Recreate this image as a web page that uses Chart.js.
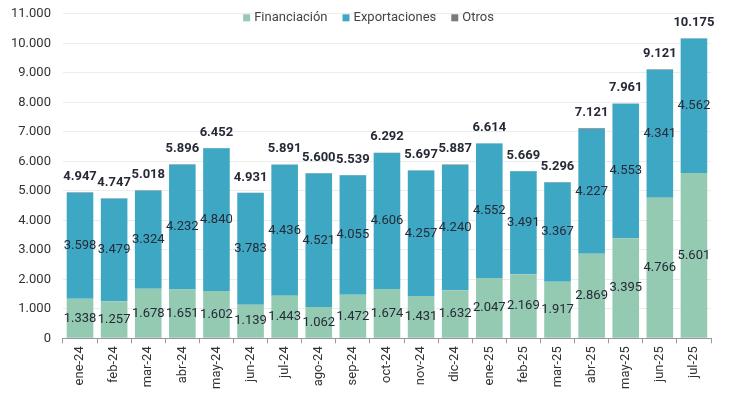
<!DOCTYPE html>
<html>
<head>
<meta charset="utf-8">
<script src="https://cdn.jsdelivr.net/npm/chart.js@4/dist/chart.umd.min.js"></script>
<style>
  html, body { margin: 0; padding: 0; background: #fff; }
  #wrap { width: 737px; height: 398px; }
</style>
</head>
<body>
<div id="wrap"><canvas id="chart"></canvas></div>
<script>
const months = ['ene-24', 'feb-24', 'mar-24', 'abr-24', 'may-24', 'jun-24', 'jul-24', 'ago-24', 'sep-24', 'oct-24', 'nov-24', 'dic-24',
                'ene-25', 'feb-25', 'mar-25', 'abr-25', 'may-25', 'jun-25', 'jul-25'];
const financiacion = [1338, 1257, 1678, 1651, 1602, 1139, 1443, 1062, 1472, 1674, 1431, 1632, 2047, 2169, 1917, 2869, 3395, 4766, 5601];
const exportaciones = [3598, 3479, 3324, 4232, 4840, 3783, 4436, 4521, 4055, 4606, 4257, 4240, 4552, 3491, 3367, 4227, 4553, 4341, 4562];
const otros = [11, 11, 16, 13, 10, 9, 12, 17, 12, 12, 9, 15, 15, 9, 12, 25, 13, 14, 12];
const totals = [4947, 4747, 5018, 5896, 6452, 4931, 5891, 5600, 5539, 6292, 5697, 5887, 6614, 5669, 5296, 7121, 7961, 9121, 10175];

const green = '#94c9b2';
const blue = '#3ea8c4';
const grey = '#7a7a7a';
const textDark = '#262a36';
const fontFamily = 'Roboto, "Noto Sans", sans-serif';

// thousands separator with a dot
function fmt(v) {
    return String(Math.round(v)).replace(/\B(?=(\d{3})+(?!\d))/g, '.');
}

// segment values and totals
const labelsPlugin = {
    id: 'barLabels',
    afterDatasetsDraw(chart) {
        const ctx = chart.ctx;
        ctx.save();
        ctx.textAlign = 'center';
        ctx.textBaseline = 'middle';
        [0, 1].forEach(di => {
            const meta = chart.getDatasetMeta(di);
            ctx.font = '13px ' + fontFamily;
            ctx.fillStyle = textDark;
            meta.data.forEach((bar, i) => {
                const y = (bar.y + bar.base) / 2;
                ctx.fillText(fmt(chart.data.datasets[di].data[i]), bar.x, y);
            });
        });
        const yScale = chart.scales.y;
        const topMeta = chart.getDatasetMeta(2);
        ctx.font = 'bold 13px ' + fontFamily;
        ctx.fillStyle = textDark;
        ctx.textBaseline = 'bottom';
        topMeta.data.forEach((bar, i) => {
            ctx.fillText(fmt(totals[i]), bar.x, yScale.getPixelForValue(totals[i]) - 9);
        });
        ctx.restore();
    }
};

// legend drawn over the top of the plot
const legendPlugin = {
    id: 'overLegend',
    afterDraw(chart) {
        const ctx = chart.ctx;
        const items = chart.data.datasets.map(d => ({ text: d.label, color: d.backgroundColor }));
        ctx.save();
        ctx.font = '13px ' + fontFamily;
        const box = 7, gap = 4, spacing = 15;
        let total = 0;
        items.forEach((it, i) => {
            it.w = ctx.measureText(it.text).width;
            total += box + gap + it.w + (i < items.length - 1 ? spacing : 0);
        });
        let x = chart.width / 2 - total / 2;
        const y = chart.chartArea.top + 4;
        ctx.textBaseline = 'middle';
        ctx.textAlign = 'left';
        items.forEach(it => {
            ctx.fillStyle = it.color;
            ctx.fillRect(x, y - box / 2, box, box);
            x += box + gap;
            ctx.fillStyle = '#444';
            ctx.fillText(it.text, x, y);
            x += it.w + spacing;
        });
        ctx.restore();
    }
};

new Chart(document.getElementById('chart'), {
    type: 'bar',
    data: {
        labels: months,
        datasets: [
            { label: 'Financiación', data: financiacion, backgroundColor: green },
            { label: 'Exportaciones', data: exportaciones, backgroundColor: blue },
            { label: 'Otros', data: otros, backgroundColor: grey }
        ]
    },
    options: {
        responsive: true,
        maintainAspectRatio: false,
        animation: false,
        layout: { padding: { top: 0, right: 26, bottom: 6, left: 5 } },
        datasets: {
            bar: { categoryPercentage: 1, barPercentage: 0.78 }
        },
        plugins: {
            legend: { display: false },
            tooltip: { enabled: false }
        },
        scales: {
            x: {
                stacked: true,
                grid: { drawOnChartArea: false, drawTicks: true, tickLength: 5, color: '#999' },
                border: { display: true, color: '#999' },
                ticks: {
                    maxRotation: 90, minRotation: 90,
                    color: '#333',
                    padding: 3,
                    font: { family: fontFamily, size: 13 }
                }
            },
            y: {
                stacked: true,
                min: 0,
                max: 11000,
                // invisible tick marks keep the label gap without adding top padding
                grid: { color: '#ececec', drawTicks: true, tickLength: 6, tickColor: 'rgba(0,0,0,0)' },
                border: { display: false },
                ticks: {
                    stepSize: 1000,
                    padding: 6,
                    color: '#333',
                    font: { family: fontFamily, size: 13 },
                    callback: v => fmt(v)
                }
            }
        }
    },
    plugins: [labelsPlugin, legendPlugin]
});
</script>
</body>
</html>
